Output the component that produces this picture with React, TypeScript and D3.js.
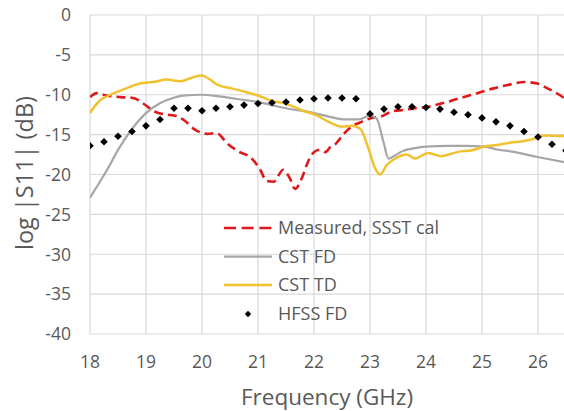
import React from "react";
import * as d3 from "d3";

const xTicks = [18, 19, 20, 21, 22, 23, 24, 25, 26];
const yTicks = [0, -5, -10, -15, -20, -25, -30, -35, -40];

const measFreq = [18.0, 18.12, 18.3, 18.55, 18.77, 18.95, 19.15, 19.36, 19.5, 19.68, 19.88, 20.1, 20.26, 20.45, 20.65, 20.89, 21.04, 21.15, 21.28, 21.45, 21.57, 21.66, 21.78, 21.87, 21.96, 22.1, 22.2, 22.3, 22.38, 22.52, 22.67, 22.85, 23.03, 23.21, 23.39, 23.6, 23.8, 24.04, 24.22, 24.43, 24.62, 24.92, 25.21, 25.51, 25.75, 25.99, 26.17, 26.38, 26.5];
const measVal = [-10.3, -9.8, -10.1, -10.3, -10.4, -11.1, -12.1, -12.5, -12.6, -13.2, -14.4, -14.9, -14.8, -16.1, -17.1, -18.0, -19.4, -20.8, -20.9, -19.4, -20.5, -21.8, -20.5, -18.8, -17.5, -16.9, -17.2, -16.5, -16.2, -15.0, -14.0, -13.4, -12.9, -12.7, -12.1, -11.9, -11.7, -11.5, -11.2, -10.8, -10.4, -9.8, -9.2, -8.7, -8.4, -8.6, -9.2, -10.0, -10.6];

const fdFreq = [18.0, 18.29, 18.52, 18.76, 19.0, 19.24, 19.48, 19.66, 20.0, 20.3, 20.6, 21.0, 21.43, 22.0, 22.3, 22.55, 22.8, 23.0, 23.12, 23.24, 23.33, 23.45, 23.57, 23.8, 24.0, 24.4, 24.7, 25.04, 25.3, 25.51, 25.99, 26.5];
const fdVal = [-22.9, -19.6, -16.7, -14.2, -12.3, -11.1, -10.4, -10.1, -10.0, -10.2, -10.5, -10.9, -11.6, -12.3, -12.8, -13.1, -13.1, -12.6, -13.0, -15.9, -18.0, -17.6, -17.1, -16.7, -16.5, -16.4, -16.4, -16.5, -16.9, -17.1, -17.8, -18.5];

const tdFreq = [18.0, 18.1, 18.18, 18.36, 18.65, 18.89, 19.13, 19.37, 19.61, 19.84, 20.0, 20.1, 20.29, 20.53, 20.75, 21.0, 21.27, 21.48, 21.84, 22.02, 22.29, 22.5, 22.68, 22.83, 22.97, 23.09, 23.18, 23.3, 23.45, 23.66, 23.8, 24.04, 24.28, 24.45, 24.62, 24.8, 25.04, 25.27, 25.51, 25.75, 25.99, 26.11, 26.5];
const tdVal = [-12.3, -11.3, -10.7, -10.0, -9.2, -8.6, -8.4, -8.1, -8.3, -7.8, -7.6, -7.9, -8.8, -9.2, -9.6, -10.1, -10.8, -11.1, -12.1, -12.5, -13.5, -14.0, -13.9, -14.3, -16.7, -19.2, -20.0, -18.8, -18.0, -17.5, -18.0, -17.3, -17.7, -17.4, -17.1, -17.0, -16.5, -16.3, -16.0, -15.8, -15.4, -15.1, -15.2];

const hfssFreq = [18.0, 18.25, 18.5, 18.75, 19.0, 19.25, 19.5, 19.75, 20.0, 20.25, 20.5, 20.75, 21.0, 21.25, 21.5, 21.75, 22.0, 22.25, 22.5, 22.75, 23.0, 23.25, 23.5, 23.75, 24.0, 24.25, 24.5, 24.75, 25.0, 25.25, 25.5, 25.75, 26.0, 26.25, 26.5];
const hfssVal = [-16.4, -15.9, -15.2, -14.6, -13.9, -13.1, -11.7, -11.7, -12.0, -11.7, -11.5, -11.3, -11.1, -11.0, -10.9, -10.65, -10.5, -10.4, -10.4, -10.5, -12.4, -11.8, -11.5, -11.5, -11.6, -11.8, -12.2, -12.5, -12.9, -13.4, -13.9, -14.6, -15.3, -16.2, -17.0];

const legendLabels = ["Measured, SSST cal", "CST FD", "CST TD", "HFSS FD"];

const FONT = "'Open Sans', sans-serif";
const TEXT = "#595959";

export default function App() {
  const W = 564, H = 411;
  const left = 90, top = 15, bottom = 334;
  const x = d3.scaleLinear().domain([18, 26.5]).range([left, left + 56 * 8.5]);
  const y = d3.scaleLinear().domain([0, -40]).range([top, bottom]);
  const right = x(26.5);

  const mk = (fs: number[], vs: number[]) =>
    d3.line<number>().x((_, i) => x(fs[i])).y((v) => y(v)).curve(d3.curveMonotoneX)(vs) || "";

  const measPath = mk(measFreq, measVal);
  const fdPath = mk(fdFreq, fdVal);
  const tdPath = mk(tdFreq, tdVal);

  const legY = [228, 256.7, 285, 314];
  const legX1 = 224, legX2 = 272, legText = 278;

  return (
    <div style={{ position: "absolute", left: 0, top: 0 }}>
      <svg width={W} height={H} style={{ display: "block", background: "#fff" }}>
        <defs>
          <clipPath id="plot">
            <rect x={left} y={top - 5} width={right - left} height={bottom - top + 10} />
          </clipPath>
        </defs>
        {yTicks.map((t) => (
          <line key={"gy" + t} x1={left} x2={right} y1={y(t)} y2={y(t)} stroke="#d9d9d9" strokeWidth={1.2} />
        ))}
        {xTicks.map((t) => (
          <line key={"gx" + t} x1={x(t)} x2={x(t)} y1={top} y2={bottom} stroke="#d9d9d9" strokeWidth={1.2} />
        ))}
        {yTicks.map((t) => (
          <text key={"ty" + t} x={71} y={y(t)} dy="0.36em" textAnchor="end" fontFamily={FONT} fontSize={17.5} fill={TEXT}>
            {t}
          </text>
        ))}
        {xTicks.map((t) => (
          <text key={"tx" + t} x={x(t)} y={362} dy="0.36em" textAnchor="middle" fontFamily={FONT} fontSize={17.5} fill={TEXT}>
            {t}
          </text>
        ))}
        <text x={327} y={397} dy="0.36em" textAnchor="middle" fontFamily={FONT} fontSize={22.5} fill={TEXT}>
          Frequency (GHz)
        </text>
        <text transform="translate(25,173) rotate(-90)" dy="0.36em" textAnchor="middle" fontFamily={FONT} fontSize={23.5} fill={TEXT}>
          log |S11| (dB)
        </text>
        <g clipPath="url(#plot)">
          <path d={measPath} fill="none" stroke="#e0181b" strokeWidth={2.6} strokeDasharray="9,5" />
          <path d={fdPath} fill="none" stroke="#a6a6a6" strokeWidth={2.2} />
          <path d={tdPath} fill="none" stroke="#f2c12e" strokeWidth={2.5} />
          {hfssVal.map((v, i) => (
            <path
              key={"h" + i}
              d="M0,-3.8L3.8,0L0,3.8L-3.8,0Z"
              transform={`translate(${x(hfssFreq[i])},${y(v)})`}
              fill="#000"
            />
          ))}
        </g>
        <line x1={legX1} x2={legX2} y1={legY[0]} y2={legY[0]} stroke="#e0181b" strokeWidth={2.6} strokeDasharray="12,5.7" />
        <line x1={legX1} x2={legX2} y1={legY[1]} y2={legY[1]} stroke="#a6a6a6" strokeWidth={2.2} />
        <line x1={legX1} x2={legX2} y1={legY[2]} y2={legY[2]} stroke="#f2c12e" strokeWidth={2.5} />
        <path d="M0,-3.2L3.2,0L0,3.2L-3.2,0Z" transform={`translate(${(legX1 + legX2) / 2},${legY[3]})`} fill="#000" />
        {legendLabels.map((l, i) => (
          <text key={l} x={legText} y={legY[i]} dy="0.36em" fontFamily={FONT} fontSize={18} fill={TEXT}>
            {l}
          </text>
        ))}
      </svg>
    </div>
  );
}
